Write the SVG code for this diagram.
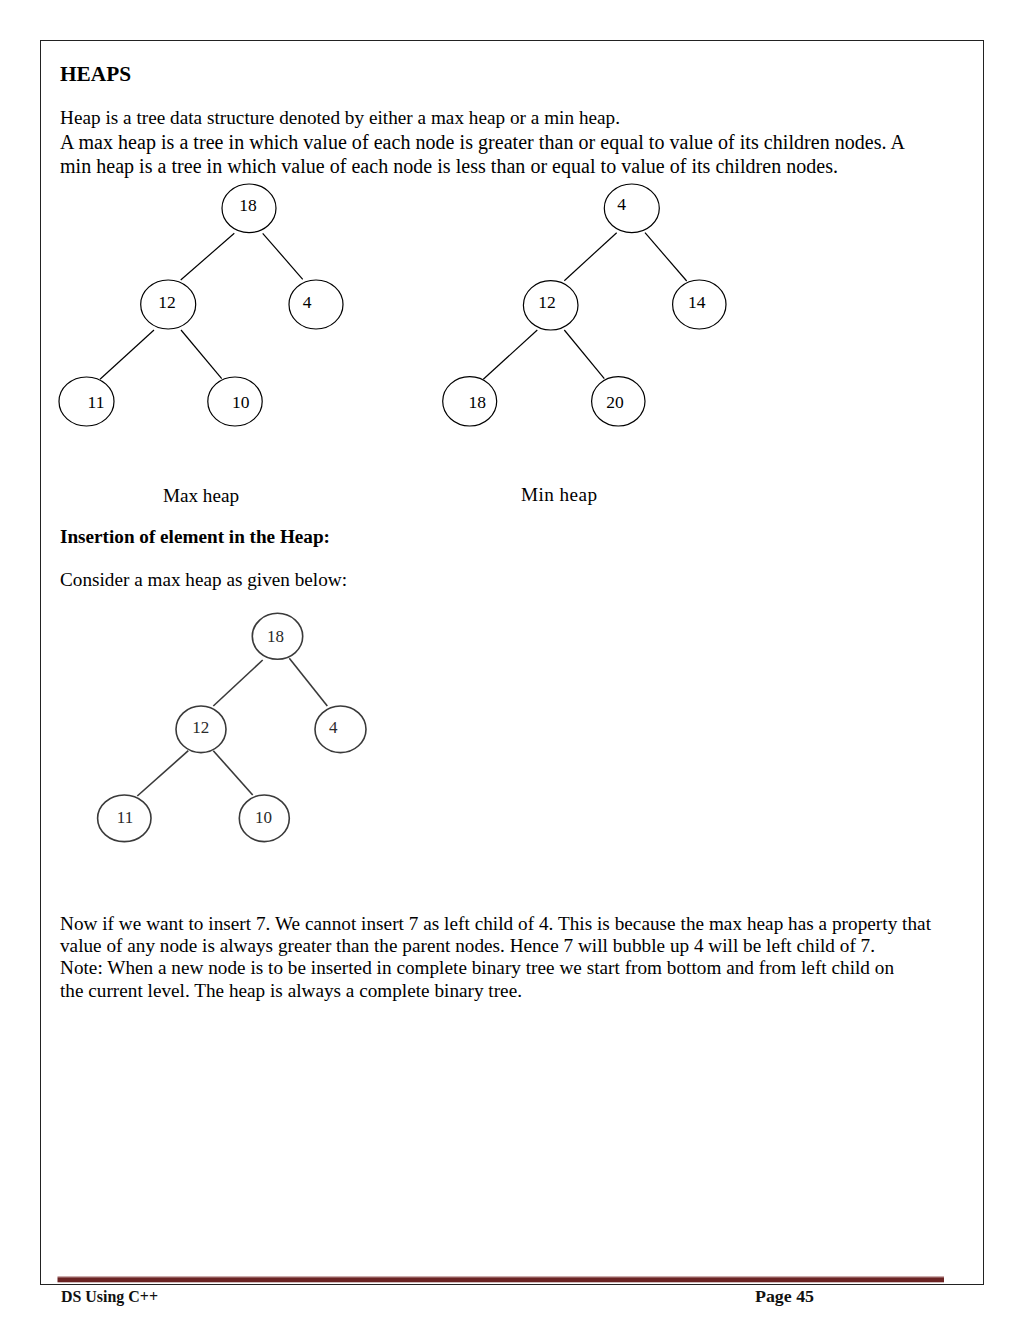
<svg xmlns="http://www.w3.org/2000/svg" width="1024" height="1325" viewBox="0 0 1024 1325">
<style>
  .t { font-family: "Liberation Serif", "Times New Roman", serif; fill: #000; }
  .body { font-size: 19.2px; }
  .big { font-size: 20px; }
  .b { font-weight: bold; }
  .n { font-family: "Liberation Serif", "Times New Roman", serif; font-size: 17.5px; fill: #000; text-anchor: middle; }
  .n3 { font-family: "Liberation Serif", "Times New Roman", serif; font-size: 17px; fill: #2a2a2a; text-anchor: middle; }
  .node { fill: #fff; stroke: #000; stroke-width: 1.2; }
  .node3 { fill: #fff; stroke: #3a3a3a; stroke-width: 1.6; }
  .edge { stroke: #000; stroke-width: 1.2; fill: none; }
  .edge3 { stroke: #3a3a3a; stroke-width: 1.6; fill: none; }
  .foot { font-family: "Liberation Serif", "Times New Roman", serif; font-size: 16px; font-weight: bold; fill: #111; }
</style>
<rect x="0" y="0" width="1024" height="1325" fill="#fff"/>
<rect x="40.5" y="40.5" width="943" height="1244" fill="none" stroke="#222" stroke-width="1"/>

<text class="t b" x="60" y="80.5" font-size="21.3" textLength="71" lengthAdjust="spacingAndGlyphs">HEAPS</text>
<text class="t body" x="60" y="124" textLength="560" lengthAdjust="spacing">Heap is a tree data structure denoted by either a max heap or a min heap.</text>
<text class="t big" x="60" y="148.5" textLength="845" lengthAdjust="spacing">A max heap is a tree in which value of each node is greater than or equal to value of its children nodes. A</text>
<text class="t big" x="60" y="172.5" textLength="778" lengthAdjust="spacing">min heap is a tree in which value of each node is less than or equal to value of its children nodes.</text>

<!-- Max heap tree -->
<g id="connectors-maxheap">
  <line class="edge" x1="234.3" y1="233.3" x2="180.7" y2="280"/>
  <line class="edge" x1="262.7" y1="233.3" x2="302.7" y2="279.3"/>
  <line class="edge" x1="154" y1="330" x2="100" y2="379.3"/>
  <line class="edge" x1="181" y1="330" x2="221.7" y2="378.7"/>
</g>
<g id="max-18"><ellipse class="node" cx="249" cy="208.3" rx="27" ry="24.3"/><text class="n" x="248" y="210.5">18</text></g>
<g id="max-12"><ellipse class="node" cx="168.2" cy="304.5" rx="27.5" ry="24.5"/><text class="n" x="167" y="307.7">12</text></g>
<g id="max-4"><ellipse class="node" cx="316" cy="304.5" rx="27" ry="24.5"/><text class="n" x="307" y="307.7">4</text></g>
<g id="max-11"><ellipse class="node" cx="86.5" cy="401.5" rx="27.5" ry="24.5"/><text class="n" x="96" y="408.3">11</text></g>
<g id="max-10"><ellipse class="node" cx="235" cy="401.5" rx="27.2" ry="24.5"/><text class="n" x="240.7" y="408.3">10</text></g>

<!-- Min heap tree -->
<g id="connectors-minheap">
  <line class="edge" x1="616.7" y1="232.7" x2="564.3" y2="280.7"/>
  <line class="edge" x1="645" y1="232.7" x2="686.7" y2="281"/>
  <line class="edge" x1="537.3" y1="330" x2="483.3" y2="379.3"/>
  <line class="edge" x1="564.3" y1="330" x2="604.3" y2="378.7"/>
</g>
<g id="min-4"><ellipse class="node" cx="631.8" cy="208.3" rx="27.5" ry="24.3"/><text class="n" x="621.7" y="210">4</text></g>
<g id="min-12"><ellipse class="node" cx="550.7" cy="305.3" rx="27.3" ry="24.7"/><text class="n" x="547" y="307.7">12</text></g>
<g id="min-14"><ellipse class="node" cx="699.3" cy="304.5" rx="26.7" ry="24.5"/><text class="n" x="696.7" y="307.7">14</text></g>
<g id="min-18"><ellipse class="node" cx="469.7" cy="401.3" rx="27" ry="24.7"/><text class="n" x="477.3" y="408.3">18</text></g>
<g id="min-20"><ellipse class="node" cx="618.3" cy="401.3" rx="26.7" ry="24.7"/><text class="n" x="615" y="407.7">20</text></g>

<text class="t body" x="163" y="502" textLength="76" lengthAdjust="spacing">Max heap</text>
<text class="t body" x="521" y="501" textLength="76" lengthAdjust="spacing">Min heap</text>

<text class="t body b" x="60" y="543" textLength="270" lengthAdjust="spacing">Insertion of element in the Heap:</text>
<text class="t body" x="60" y="586" textLength="287" lengthAdjust="spacing">Consider a max heap as given below:</text>

<!-- Third tree -->
<g id="connectors-example">
  <line class="edge3" x1="262.7" y1="660" x2="213.3" y2="706"/>
  <line class="edge3" x1="289.3" y1="658.3" x2="327.3" y2="706"/>
  <line class="edge3" x1="188.3" y1="750.7" x2="137.3" y2="796"/>
  <line class="edge3" x1="213.3" y1="750.7" x2="252.7" y2="795"/>
</g>
<g id="ex-18"><ellipse class="node3" cx="277.5" cy="636.3" rx="25.2" ry="23"/><text class="n3" x="275.5" y="641.5">18</text></g>
<g id="ex-12"><ellipse class="node3" cx="201" cy="729.3" rx="25" ry="23.3"/><text class="n3" x="200.7" y="733">12</text></g>
<g id="ex-4"><ellipse class="node3" cx="340.5" cy="729.3" rx="25.5" ry="23.3"/><text class="n3" x="333.3" y="733">4</text></g>
<g id="ex-11"><ellipse class="node3" cx="124.3" cy="818.3" rx="26.7" ry="23.3"/><text class="n3" x="125" y="823">11</text></g>
<g id="ex-10"><ellipse class="node3" cx="264.3" cy="818.3" rx="25" ry="23.3"/><text class="n3" x="263.5" y="823">10</text></g>

<text class="t body" x="60" y="929.5" textLength="871" lengthAdjust="spacing">Now if we want to insert 7. We cannot insert 7 as left child of 4. This is because the max heap has a property that</text>
<text class="t body" x="60" y="951.7" textLength="815" lengthAdjust="spacing">value of any node is always greater than the parent nodes. Hence 7 will bubble up 4 will be left child of 7.</text>
<text class="t body" x="60" y="974" textLength="834" lengthAdjust="spacing">Note: When a new node is to be inserted in complete binary tree we start from bottom and from left child on</text>
<text class="t body" x="60" y="996.5" textLength="462" lengthAdjust="spacing">the current level. The heap is always a complete binary tree.</text>

<!-- Footer -->
<line x1="57.5" y1="1276.8" x2="944" y2="1276.8" stroke="#b88a8a" stroke-width="1"/>
<rect x="57.5" y="1277.3" width="886.5" height="5" fill="#6b2323"/>
<text class="foot" x="61" y="1302" textLength="97" lengthAdjust="spacingAndGlyphs">DS Using C++</text>
<text class="foot" x="755" y="1302" textLength="59" lengthAdjust="spacingAndGlyphs">Page 45</text>
</svg>
